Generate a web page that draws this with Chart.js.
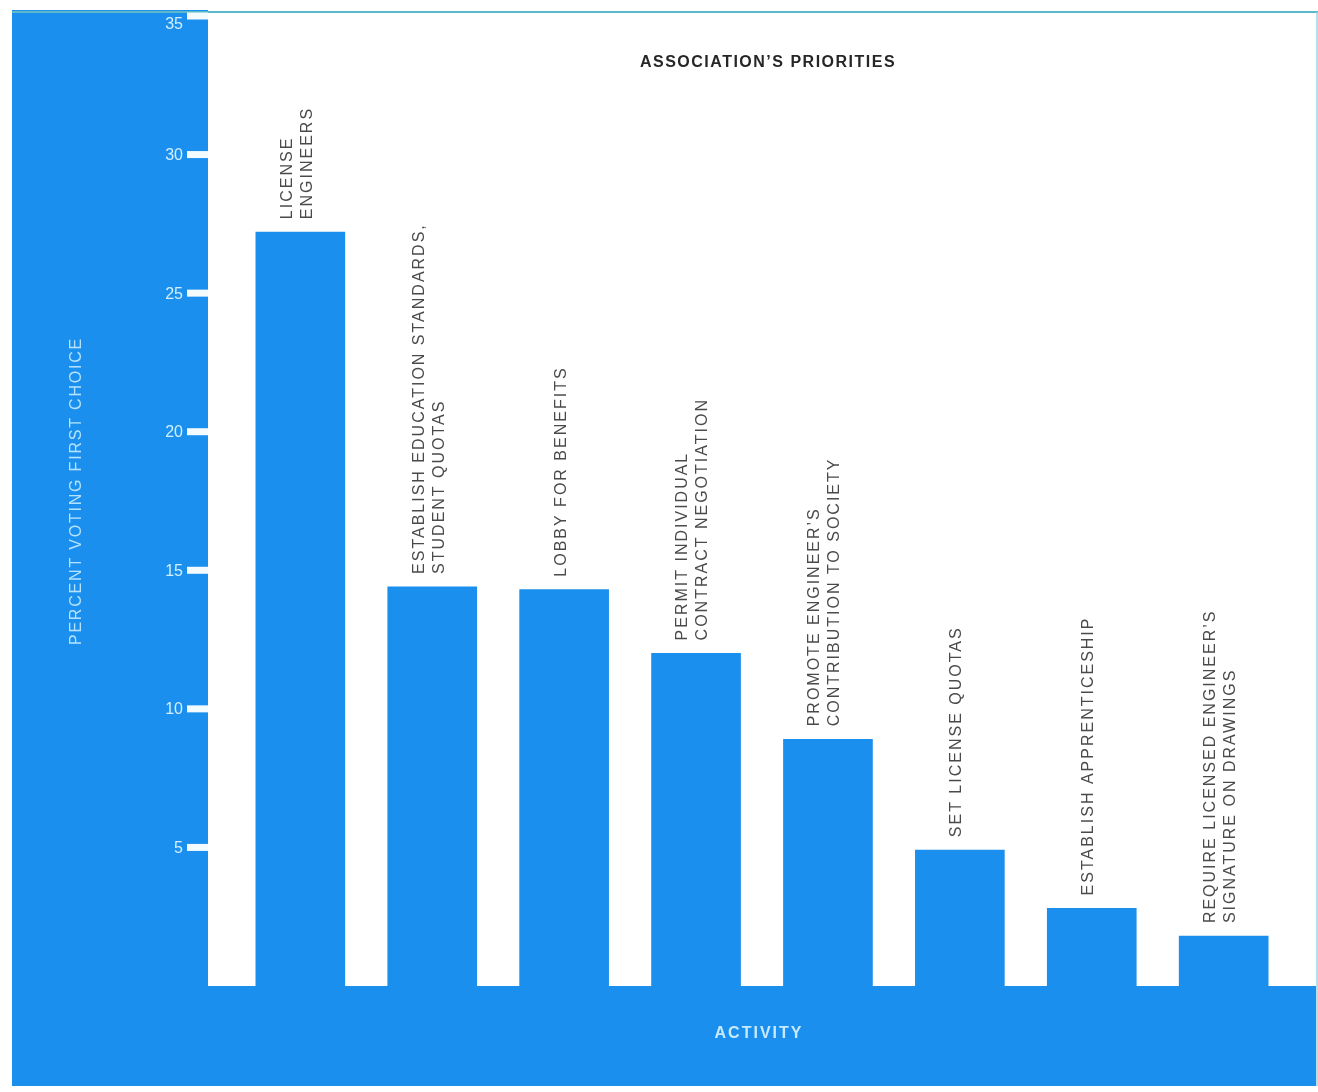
<!DOCTYPE html>
<html>
<head>
<meta charset="utf-8">
<script src="https://cdn.jsdelivr.net/npm/chart.js@4/dist/chart.umd.min.js"></script>
<style>
  html, body { margin: 0; padding: 0; background: #ffffff; }
  canvas { display: block; }
</style>
</head>
<body>
<canvas id="c" width="1318" height="1092"></canvas>
<script>
// Survey: which activity members want the association to take up first
const categories = [
  ['LICENSE', 'ENGINEERS'],
  ['ESTABLISH EDUCATION STANDARDS,', 'STUDENT QUOTAS'],
  ['LOBBY FOR BENEFITS'],
  ['PERMIT INDIVIDUAL', 'CONTRACT NEGOTIATION'],
  ['PROMOTE ENGINEER\u2019S', 'CONTRIBUTION TO SOCIETY'],
  ['SET LICENSE QUOTAS'],
  ['ESTABLISH APPRENTICESHIP'],
  ['REQUIRE LICENSED ENGINEER\u2019S', 'SIGNATURE ON DRAWINGS']
];
const percentFirstChoice = [27.2, 14.4, 14.3, 12.0, 8.9, 4.9, 2.8, 1.8];
const yTicks = [5, 10, 15, 20, 25, 30, 35];
const yTickLabels = ['5', '10', '15', '20', '25', '30', '35'];

const chartTitle = 'ASSOCIATION\u2019S PRIORITIES';
const yTitle = 'PERCENT VOTING FIRST CHOICE';
const xTitle = 'ACTIVITY';

const BLUE = '#1b8fee';
const FONT = '"Liberation Sans", Arial, Helvetica, sans-serif';

const backdrop = {
  id: 'backdrop',
  beforeDraw(chart) {
    const { ctx, chartArea: a } = chart;
    ctx.save();
    ctx.fillStyle = '#ffffff';
    ctx.fillRect(0, 0, chart.width, chart.height);
    // blue panel
    ctx.fillStyle = BLUE;
    ctx.fillRect(12, 10, 1304, 1076);
    // white plotting field
    ctx.fillStyle = '#ffffff';
    ctx.fillRect(a.left, 0, a.right - a.left, a.bottom);
    // thin rule along the top and right edge
    ctx.strokeStyle = '#5cb9cc';
    ctx.lineWidth = 2;
    ctx.beginPath();
    ctx.moveTo(12, 12);
    ctx.lineTo(1318, 12);
    ctx.stroke();
    ctx.strokeStyle = '#9bd5e6';
    ctx.lineWidth = 1.5;
    ctx.beginPath();
    ctx.moveTo(1317, 12);
    ctx.lineTo(1317, 1086);
    ctx.stroke();
    ctx.restore();
  }
};

const annotations = {
  id: 'annotations',
  afterDatasetsDraw(chart) {
    const { ctx, chartArea: a } = chart;
    const y = chart.scales.y;
    ctx.save();

    // y ticks: white stubs with labels on the blue panel
    ctx.font = '16px ' + FONT;
    ctx.textAlign = 'right';
    ctx.textBaseline = 'middle';
    yTicks.forEach((t, i) => {
      const py = y.getPixelForValue(t);
      ctx.fillStyle = '#f4fbff';
      ctx.fillRect(a.left - 21, py - 3.5, 21, 7);
      ctx.fillStyle = '#d2efff';
      ctx.fillText(yTickLabels[i], a.left - 25, Math.max(py + 1, 25));
    });

    // category labels, rotated above each bar
    const meta = chart.getDatasetMeta(0);
    ctx.fillStyle = '#4a4a4a';
    ctx.font = '16px ' + FONT;
    ctx.letterSpacing = '2px';
    ctx.textAlign = 'left';
    ctx.textBaseline = 'middle';
    meta.data.forEach((bar, i) => {
      const lines = categories[i];
      const gap = 20;
      ctx.save();
      ctx.translate(bar.x - 3, bar.y - 13);
      ctx.rotate(-Math.PI / 2);
      lines.forEach((ln, k) => {
        const off = (k - (lines.length - 1) / 2) * gap;
        ctx.fillText(ln, 0, off);
      });
      ctx.restore();
    });

    // chart title
    ctx.fillStyle = '#262626';
    ctx.font = 'bold 16px ' + FONT;
    ctx.letterSpacing = '1.5px';
    ctx.textAlign = 'center';
    ctx.textBaseline = 'middle';
    ctx.fillText(chartTitle, 768, 63);

    // axis titles
    ctx.fillStyle = '#b4e2ff';
    ctx.font = '16px ' + FONT;
    ctx.letterSpacing = '1.8px';
    ctx.save();
    ctx.translate(77, 491);
    ctx.rotate(-Math.PI / 2);
    ctx.fillText(yTitle, 0, 0);
    ctx.restore();

    ctx.fillStyle = '#c6eaff';
    ctx.font = 'bold 16px ' + FONT;
    ctx.letterSpacing = '2px';
    ctx.fillText(xTitle, 759, 1034);

    ctx.restore();
  }
};

new Chart(document.getElementById('c'), {
  type: 'bar',
  data: {
    datasets: [{
      data: percentFirstChoice.map((v, i) => ({ x: i, y: v })),
      backgroundColor: BLUE,
      borderWidth: 0,
      barThickness: 89
    }]
  },
  options: {
    responsive: false,
    animation: false,
    devicePixelRatio: 1,
    layout: { padding: { left: 208, right: 2, top: 16, bottom: 106 } },
    scales: {
      x: { type: 'linear', min: -0.7, max: 7.7, offset: false, display: false },
      y: { min: 0, max: 35, display: false }
    },
    plugins: {
      legend: { display: false },
      tooltip: { enabled: false },
      title: { display: false }
    }
  },
  plugins: [backdrop, annotations]
});
</script>
</body>
</html>
